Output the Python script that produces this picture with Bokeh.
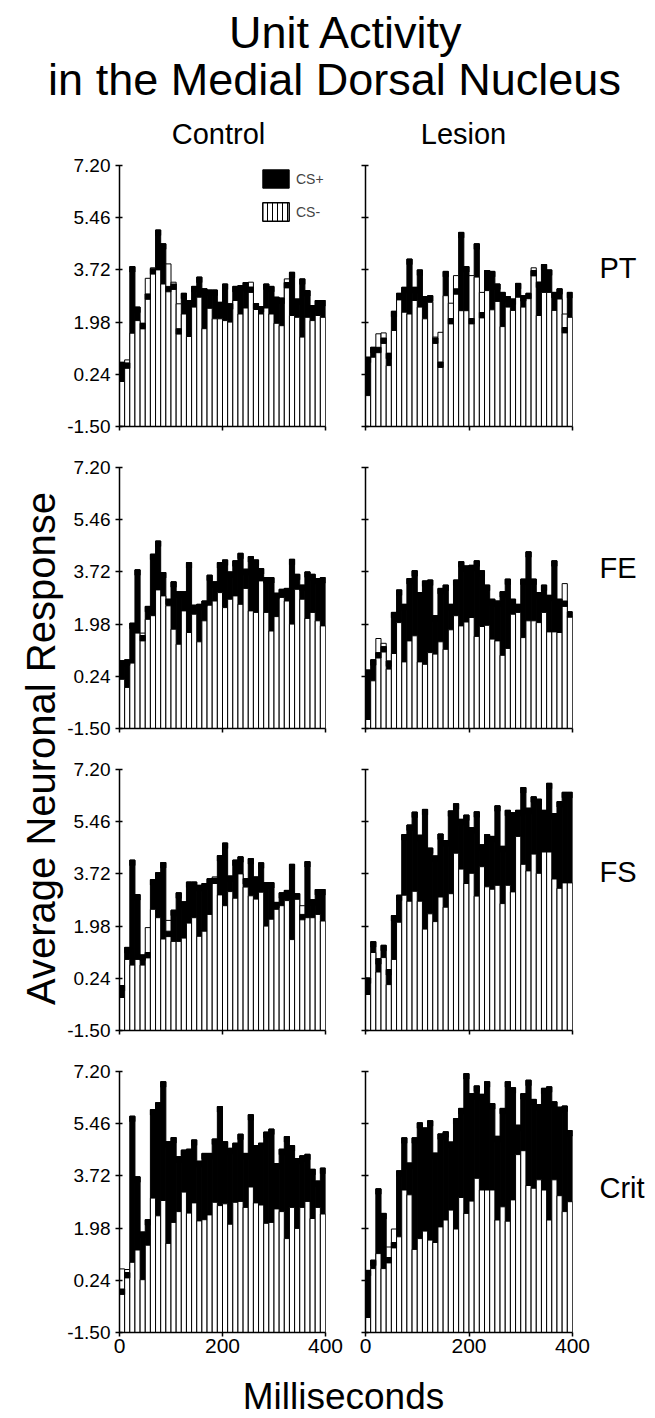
from bokeh.plotting import figure
from bokeh.layouts import column, row
from bokeh.models import Range1d, FixedTicker, Legend, LegendItem, NumeralTickFormatter
from bokeh.embed import file_html
from bokeh.resources import INLINE
from bokeh.core.properties import value
import math

FONT = "Liberation Sans"

# ---------------- data ----------------
bin_centres_ms = list(range(5, 400, 10))          # 40 bins of 10 ms
y_ticks = [-1.50, 0.24, 1.98, 3.72, 5.46, 7.20]
x_ticks = [0, 200, 400]
x_tick_labels = {0: "0", 200: "200", 400: "400"}
conditions = ["PT", "FE", "FS", "Crit"]
groups = ["Control", "Lesion"]
legend_labels = ["CS+", "CS-"]

pt_control_csplus = [0.64, 0.62, 3.83, 2.48, 1.94, 2.92, 3.76, 5.05, 4.59, 3.17, 3.25, 1.76, 2.94, 2.70, 3.17, 3.48, 3.09, 3.05, 3.05, 2.64,
                     3.25, 2.59, 3.17, 3.20, 3.30, 3.15, 2.60, 2.50, 3.25, 3.17, 2.81, 2.78, 3.30, 3.64, 2.75, 3.42, 3.03, 2.53, 2.70, 2.70]
pt_control_csminus = [0.00, 0.72, 1.61, 2.03, 1.76, 3.44, 3.79, 3.72, 3.25, 3.92, 3.31, 2.59, 2.25, 1.50, 2.48, 2.81, 1.76, 2.44, 2.09, 2.09,
                      2.03, 1.98, 2.70, 2.25, 2.45, 3.31, 2.40, 2.25, 2.45, 2.25, 1.94, 1.86, 3.42, 2.20, 2.14, 1.48, 2.14, 2.03, 2.20, 2.14]
pt_lesion_csplus = [0.81, 1.14, 1.14, 1.45, 0.94, 2.34, 2.94, 3.14, 4.08, 3.14, 3.72, 2.83, 2.86, 1.45, 0.65, 3.67, 2.10, 3.09, 4.97, 3.83,
                    2.10, 4.59, 2.30, 3.70, 3.67, 3.25, 2.97, 2.83, 2.75, 3.27, 2.86, 2.94, 3.70, 3.31, 3.90, 3.72, 2.97, 3.09, 1.80, 2.97]
pt_lesion_csminus = [-0.47, 0.81, 1.59, 1.62, 0.53, 1.70, 2.72, 2.31, 2.25, 2.70, 2.48, 2.09, 2.64, 1.48, 1.64, 2.86, 2.61, 3.53, 2.36, 2.36,
                     3.53, 3.48, 2.97, 3.03, 2.39, 2.67, 1.83, 2.48, 2.37, 2.81, 2.48, 2.81, 3.79, 2.20, 2.97, 2.97, 2.37, 2.75, 2.25, 2.14]
fe_control_csplus = [0.76, 0.79, 2.01, 3.79, 1.60, 2.57, 4.31, 4.75, 3.70, 2.81, 3.39, 3.06, 3.06, 4.03, 2.61, 2.64, 2.75, 3.61, 3.39, 4.03,
                     4.12, 3.72, 4.09, 4.34, 3.81, 4.23, 4.12, 3.83, 3.53, 3.53, 3.01, 3.14, 3.17, 4.14, 3.64, 3.28, 3.72, 3.64, 3.50, 3.53]
fe_control_csminus = [0.14, -0.13, 0.68, 1.68, 1.68, 2.14, 2.26, 3.12, 2.92, 2.59, 1.81, 1.31, 2.42, 1.70, 2.31, 1.39, 2.09, 2.61, 2.75, 3.03,
                      2.53, 2.81, 2.92, 2.64, 3.17, 2.42, 2.37, 3.42, 2.37, 1.75, 2.23, 2.87, 2.75, 1.98, 3.14, 2.81, 2.17, 2.37, 2.09, 1.92]
fe_lesion_csplus = [0.45, 0.79, 1.03, 1.23, 0.75, 2.37, 3.12, 2.64, 3.50, 3.76, 3.03, 3.42, 3.45, 2.26, 3.17, 3.28, 2.64, 3.45, 4.06, 3.92,
                    3.94, 4.09, 3.76, 3.28, 2.81, 2.75, 3.06, 3.48, 2.81, 2.64, 3.48, 4.39, 3.48, 3.03, 3.28, 2.94, 4.09, 2.81, 2.75, 2.39]
fe_lesion_csminus = [-1.20, 0.09, 1.50, 1.34, 0.48, 1.00, 2.03, 0.72, 1.42, 1.59, 0.72, 0.64, 1.03, 0.98, 1.39, 1.14, 1.79, 2.26, 1.92, 2.05,
                     2.20, 1.57, 1.90, 1.94, 1.48, 1.42, 0.94, 1.17, 2.31, 2.37, 1.53, 2.09, 2.09, 2.03, 2.37, 1.72, 1.72, 1.70, 3.33, 2.23]
fs_control_csplus = [0.00, 1.27, 4.18, 3.03, 1.02, 1.10, 3.53, 3.76, 4.10, 1.81, 2.51, 3.09, 2.79, 3.45, 3.45, 3.34, 3.40, 3.56, 3.58, 4.33,
                     4.75, 3.65, 4.18, 4.29, 3.56, 4.23, 3.62, 4.09, 3.43, 3.43, 2.77, 3.09, 3.17, 4.04, 3.06, 2.37, 4.13, 2.86, 3.20, 3.20]
fs_control_csminus = [-0.40, 0.87, 0.68, 0.87, 0.68, 1.93, 2.54, 2.26, 1.55, 2.17, 1.47, 1.47, 1.58, 2.08, 2.26, 1.64, 1.81, 2.37, 3.62, 3.02,
                      2.66, 3.13, 2.91, 3.72, 3.28, 2.99, 2.88, 3.11, 1.98, 2.21, 2.54, 2.66, 2.83, 1.53, 2.88, 2.66, 2.26, 2.26, 2.37, 2.15]
fs_lesion_csplus = [0.25, 1.46, 0.89, 1.34, 0.53, 2.33, 3.01, 5.03, 5.35, 5.78, 5.01, 5.87, 4.58, 4.32, 5.05, 4.83, 5.82, 6.06, 5.54, 5.68,
                    5.26, 5.79, 4.69, 5.03, 4.97, 5.99, 4.64, 5.84, 5.76, 5.84, 6.60, 5.91, 6.29, 6.21, 5.84, 6.74, 5.73, 6.13, 6.44, 6.44]
fs_lesion_csminus = [-0.30, 1.10, 0.45, 0.93, 0.03, 0.87, 2.11, 3.01, 2.81, 3.14, 2.81, 1.88, 2.39, 2.13, 2.95, 2.61, 3.06, 4.41, 3.88, 3.40,
                     3.74, 2.98, 3.96, 3.29, 3.21, 3.34, 2.73, 3.34, 3.12, 4.97, 4.04, 3.82, 4.38, 3.74, 4.45, 4.45, 3.55, 3.24, 3.42, 3.42]
crit_control_csplus = [-0.05, 0.50, 5.71, 3.69, 1.85, 2.26, 5.93, 6.16, 6.86, 4.86, 5.00, 4.36, 4.58, 4.61, 4.92, 4.21, 4.47, 4.47, 4.95, 6.03,
                       4.86, 4.64, 4.81, 5.11, 4.47, 5.76, 4.73, 4.81, 5.18, 5.28, 4.13, 4.61, 5.03, 4.73, 4.30, 4.39, 4.44, 3.94, 3.55, 3.98]
crit_control_csminus = [0.62, 0.60, 0.84, 1.25, 0.26, 1.41, 2.98, 2.39, 2.90, 1.47, 2.17, 2.53, 3.18, 2.48, 2.82, 2.22, 2.26, 2.42, 2.84, 2.73,
                        2.79, 2.11, 2.84, 2.87, 2.67, 3.35, 2.82, 2.75, 2.14, 2.17, 2.62, 2.53, 1.63, 2.67, 1.97, 2.67, 2.87, 2.30, 2.67, 2.45]
crit_lesion_csplus = [0.57, 0.91, 3.29, 2.47, 1.00, 1.50, 3.89, 4.99, 4.15, 4.99, 5.49, 5.32, 5.56, 4.48, 5.12, 5.19, 4.85, 5.63, 5.97, 7.13,
                      6.46, 6.72, 6.44, 6.86, 6.13, 5.04, 5.97, 6.86, 6.66, 5.41, 6.46, 6.91, 6.27, 6.10, 6.64, 6.69, 6.19, 6.01, 6.05, 5.23]
crit_lesion_csminus = [-1.00, 0.63, 1.13, 0.63, 1.35, 1.95, 1.69, 3.25, 3.09, 1.27, 1.63, 1.88, 1.58, 1.50, 2.02, 2.25, 2.58, 1.95, 3.00, 2.47,
                       2.88, 3.64, 3.25, 3.25, 3.25, 2.25, 2.69, 2.21, 2.92, 4.43, 4.56, 3.40, 3.31, 3.59, 3.25, 2.25, 3.59, 3.06, 2.53, 2.86]

panels = {
    ("PT", "Control"): (pt_control_csplus, pt_control_csminus),
    ("PT", "Lesion"): (pt_lesion_csplus, pt_lesion_csminus),
    ("FE", "Control"): (fe_control_csplus, fe_control_csminus),
    ("FE", "Lesion"): (fe_lesion_csplus, fe_lesion_csminus),
    ("FS", "Control"): (fs_control_csplus, fs_control_csminus),
    ("FS", "Lesion"): (fs_lesion_csplus, fs_lesion_csminus),
    ("Crit", "Control"): (crit_control_csplus, crit_control_csminus),
    ("Crit", "Lesion"): (crit_lesion_csplus, crit_lesion_csminus),
}

Y_MIN, Y_MAX = -1.50, 7.20

# ---------------- geometry ----------------
W = 655
HEADER_H = 153
ROW_TOP = 12
FRAME_H = 261
ROW_BOTTOM = 29
LAST_BOTTOM = 43
FOOTER_H = 43
YLAB_W = 64
LABEL_W = 65


def text_fig(w, h):
    p = figure(width=w, height=h, x_range=Range1d(0, w), y_range=Range1d(0, h),
               output_backend="svg", toolbar_location=None, tools="",
               min_border=0, outline_line_color=None)
    p.axis.visible = False
    p.grid.visible = False
    return p


def panel(cond, grp, is_last):
    csplus, csminus = panels[(cond, grp)]
    control = grp == "Control"
    p = figure(frame_width=206 if control else 207, frame_height=FRAME_H,
               min_border_left=53 if control else 20, min_border_right=20,
               min_border_top=ROW_TOP, min_border_bottom=LAST_BOTTOM if is_last else ROW_BOTTOM,
               x_range=Range1d(0, 400), y_range=Range1d(Y_MIN, Y_MAX),
               output_backend="svg", toolbar_location=None, tools="")
    p.outline_line_color = None
    p.grid.visible = False
    p.background_fill_color = "white"

    # CS+ (black) behind, CS- (white, outlined) in front, CS+ level marked on top
    p.vbar(x=bin_centres_ms, width=10, bottom=Y_MIN, top=csplus,
           fill_color="black", line_color="black", line_width=1)
    p.vbar(x=bin_centres_ms, width=10, bottom=Y_MIN, top=csminus,
           fill_color="white", line_color="black", line_width=1)
    p.vbar(x=bin_centres_ms, width=10, bottom=[v - 0.18 for v in csplus], top=csplus,
           fill_color="black", line_color="black", line_width=1)

    ya = p.yaxis[0]
    ya.ticker = FixedTicker(ticks=y_ticks)
    ya.formatter = NumeralTickFormatter(format="0.00")
    ya.minor_tick_line_color = None
    ya.major_tick_in = 3
    ya.major_tick_out = 4
    ya.axis_line_width = 1.5
    ya.major_tick_line_width = 1.5
    ya.major_label_text_font = FONT
    ya.major_label_text_font_size = "19px"
    ya.major_label_text_color = "black"
    ya.major_label_standoff = 5
    if not control:
        ya.major_label_overrides = {t: "" for t in y_ticks}

    xa = p.xaxis[0]
    xa.ticker = FixedTicker(ticks=x_ticks)
    xa.minor_tick_line_color = None
    xa.major_tick_in = 0
    xa.major_tick_out = 4
    xa.axis_line_width = 1.5
    xa.major_tick_line_width = 1.5
    xa.major_label_text_font = FONT
    xa.major_label_text_font_size = "21px"
    xa.major_label_text_color = "black"
    xa.major_label_standoff = 2
    if is_last:
        xa.major_label_overrides = x_tick_labels
    else:
        xa.major_label_overrides = {t: "" for t in x_ticks}

    if cond == "PT" and control:
        # zero-height proxy bars (at the axis baseline) that only supply the legend swatches
        r_plus = p.vbar(x=[bin_centres_ms[0]], width=10, bottom=[Y_MIN], top=[Y_MIN],
                        fill_color="black", line_color="black", line_width=1)
        r_minus = p.vbar(x=[bin_centres_ms[0]], width=10, bottom=[Y_MIN], top=[Y_MIN],
                         fill_color="white", line_color="black", line_width=1.5,
                         hatch_pattern="|", hatch_color="black", hatch_scale=5, hatch_weight=1)
        leg = Legend(items=[LegendItem(label=legend_labels[0], renderers=[r_plus]),
                            LegendItem(label=legend_labels[1], renderers=[r_minus])],
                     location=(140, 203), orientation="vertical",
                     glyph_width=33, glyph_height=23, label_height=23, spacing=10,
                     padding=0, margin=0, border_line_color=None, background_fill_alpha=0,
                     label_text_font=FONT, label_text_font_size="14px", label_standoff=4)
        p.add_layout(leg)
    return p


# ---------------- header ----------------
header = text_fig(W, HEADER_H)
header.text(x=[346, 334], y=[HEADER_H - 32, HEADER_H - 79],
            text=["Unit Activity", "in the Medial Dorsal Nucleus"],
            text_font=value(FONT), text_font_size="45px", text_align="center",
            text_baseline="middle", text_color="black")
header.text(x=[218, 463], y=[HEADER_H - 133, HEADER_H - 133], text=groups,
            text_font=value(FONT), text_font_size="29px", text_align="center",
            text_baseline="middle", text_color="black")

# ---------------- rows ----------------
row_label_y = {"PT": 272, "FE": 571, "FS": 876, "Crit": 1200}   # screen y of label centres
rows = []
row_top_screen = HEADER_H
for i, cond in enumerate(conditions):
    last = i == len(conditions) - 1
    h = ROW_TOP + FRAME_H + (LAST_BOTTOM if last else ROW_BOTTOM)
    pc = panel(cond, "Control", last)
    pl = panel(cond, "Lesion", last)
    lab = text_fig(LABEL_W, h)
    lab.text(x=[7], y=[h - (row_label_y[cond] - row_top_screen)], text=[cond],
             text_font=value(FONT), text_font_size="29px", text_align="left",
             text_baseline="middle", text_color="black")
    rows.append(row(pc, pl, lab))
    row_top_screen += h

rows_h = row_top_screen - HEADER_H
ylab = text_fig(YLAB_W, rows_h)
ylab.text(x=[40], y=[rows_h - (748 - HEADER_H)], text=["Average Neuronal Response"],
          angle=math.pi / 2, text_font=value(FONT), text_font_size="40px",
          text_align="center", text_baseline="middle", text_color="black")

footer = text_fig(W, FOOTER_H)
footer.text(x=[343], y=[FOOTER_H / 2 + 1], text=["Milliseconds"],
            text_font=value(FONT), text_font_size="37px", text_align="center",
            text_baseline="middle", text_color="black")

layout = column(header, row(ylab, column(*rows)), footer)

open("out.html", "w").write(file_html(layout, INLINE))
